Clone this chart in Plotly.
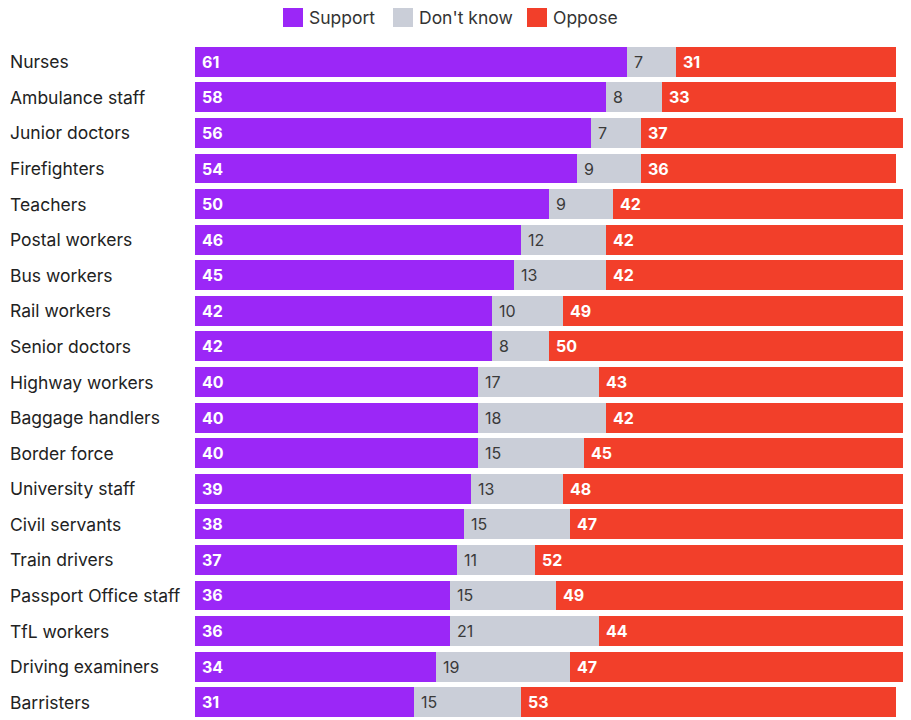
import plotly.graph_objects as go

categories = ["Nurses", "Ambulance staff", "Junior doctors", "Firefighters", "Teachers",
              "Postal workers", "Bus workers", "Rail workers", "Senior doctors",
              "Highway workers", "Baggage handlers", "Border force", "University staff",
              "Civil servants", "Train drivers", "Passport Office staff", "TfL workers",
              "Driving examiners", "Barristers"]
support = [61, 58, 56, 54, 50, 46, 45, 42, 42, 40, 40, 40, 39, 38, 37, 36, 36, 34, 31]
dont_know = [7, 8, 7, 9, 9, 12, 13, 10, 8, 17, 18, 15, 13, 15, 11, 15, 21, 19, 15]
oppose = [31, 33, 37, 36, 42, 42, 42, 49, 50, 43, 42, 45, 48, 47, 52, 49, 44, 47, 53]
series_names = ["Support", "Don't know", "Oppose"]
colors = ["#9B27F7", "#CACED8", "#F23F2A"]

OFF = 8  # page body margin
W, H = 911 - OFF, 720 - OFF
ML, MR, MT, MB = 195 - OFF, 0, 44 - OFF, 0
PW, PH = W - ML - MR, H - MT - MB
FONT = "Inter"


def px(x):
    return (x - OFF - ML) / PW


def py(y):
    return (H - MB - (y - OFF)) / PH


fig = go.Figure()
for name, vals, col in zip(series_names, [support, dont_know, oppose], colors):
    fig.add_trace(go.Bar(y=categories, x=vals, name=name, orientation="h",
                         marker=dict(color=col, line=dict(width=0)),
                         showlegend=False, hoverinfo="x+y+name"))

annotations = []
# category labels, left aligned
for c in categories:
    annotations.append(dict(x=px(8), xref="paper", y=c, yref="y", text=c,
                            showarrow=False, xanchor="left", yanchor="middle",
                            font=dict(family=FONT, size=17.5, color="#222222")))
# value labels
for c, s, d, o in zip(categories, support, dont_know, oppose):
    for base, v, colr, bold in [(0, s, "white", True), (s, d, "#3a3a3a", False),
                                (s + d, o, "white", True)]:
        annotations.append(dict(x=base, xref="x", y=c, yref="y",
                                text=(f"<b>{v}</b>" if bold else str(v)),
                                showarrow=False, xanchor="left", yanchor="middle",
                                xshift=5,
                                font=dict(family=FONT, size=16, color=colr)))

# manual legend
legend_items = [(283, 307), (393, 417), (527, 551)]
shapes = []
for (sx, tx), name, col in zip(legend_items, series_names, colors):
    shapes.append(dict(type="rect", xref="paper", yref="paper",
                       x0=px(sx), x1=px(sx + 20), y0=py(27), y1=py(7),
                       fillcolor=col, line=dict(width=0)))
    annotations.append(dict(x=px(tx), xref="paper", y=py(17), yref="paper", text=name,
                            showarrow=False, xanchor="left", yanchor="middle",
                            font=dict(family=FONT, size=17.5, color="#333333")))

fig.update_layout(
    width=W, height=H,
    margin=dict(l=ML, r=MR, t=MT, b=MB, pad=0),
    barmode="stack", bargap=0.16,
    plot_bgcolor="white", paper_bgcolor="white",
    xaxis=dict(range=[0, PW / 7.08], visible=False, fixedrange=True),
    yaxis=dict(autorange="reversed", showticklabels=False, showgrid=False,
               zeroline=False, showline=False, ticks="", fixedrange=True),
    annotations=annotations, shapes=shapes,
    showlegend=False,
    font=dict(family=FONT),
)

fig.write_html("out.html")
